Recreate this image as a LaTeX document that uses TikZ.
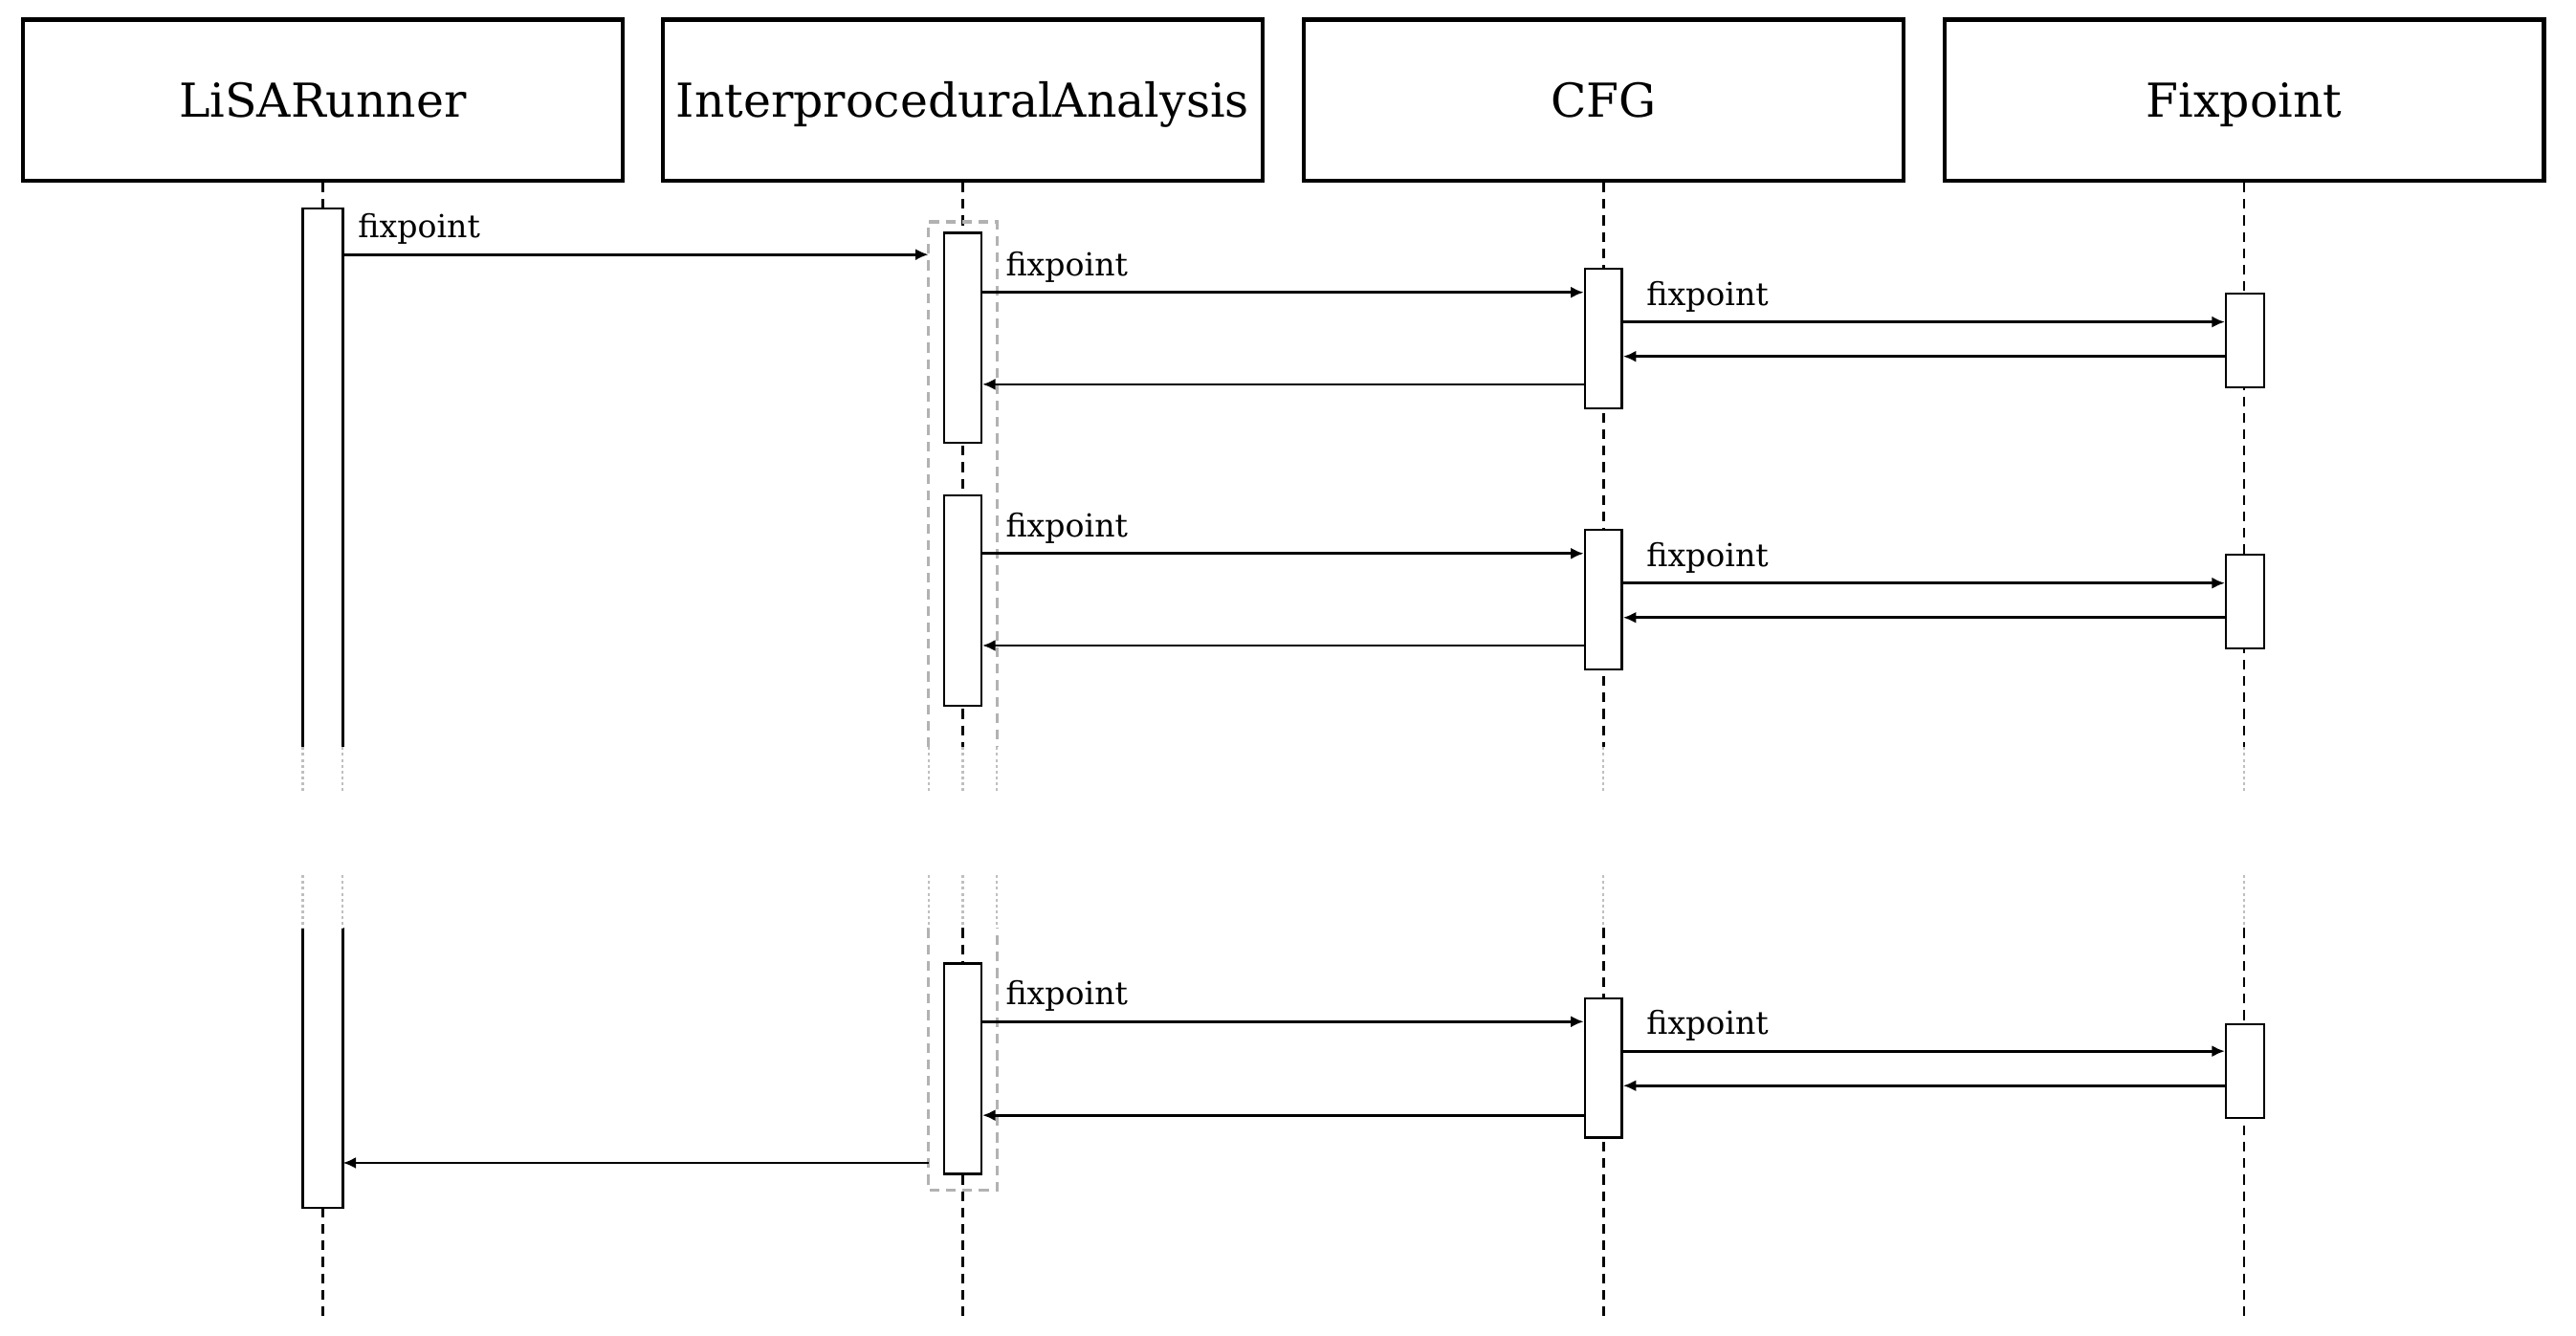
\documentclass[tikz,border=0pt]{standalone}
\usepackage{fontspec}
\setmainfont{DejaVu Serif}
\usetikzlibrary{arrows.meta}

\tikzset{
  actor/.style={draw, line width=1.4pt, minimum width=7.3cm, minimum height=1.96cm, text height=11.8pt, text depth=0pt, font=\fontsize{16.2}{19}\selectfont},
  act/.style={draw, fill=white, line width=0.8pt, minimum width=0.45cm, anchor=north, inner sep=0pt},
  life/.style={line width=0.85pt, dash pattern=on 3.4pt off 2.3pt},
  fade/.style={gray!50, line width=0.7pt, dash pattern=on 1pt off 1pt},
  frame/.style={gray!60, line width=1.1pt, dash pattern=on 3.4pt off 2.3pt},
  call/.style={line width=0.9pt, -{Latex[length=4.5pt,width=4pt]}},
  lbl/.style={font=\fontsize{11}{13}\selectfont, anchor=south west, inner sep=2pt, xshift=0.2cm, yshift=1pt},
}

\begin{document}
\begin{tikzpicture}[x=0.02cm, y=-0.02cm]
    \useasboundingbox (0,0) rectangle (1568,813);
    % Actors
    \node[actor] (lisa) at (196.5,61) {LiSARunner};
    \node[actor] (ipa) at (586,61) {InterproceduralAnalysis};
    \node[actor] (cfg) at (976,61) {CFG};
    \node[actor] (fix) at (1366,61) {Fixpoint};
    % Lifelines, broken in the middle
    \foreach \n in {lisa,ipa,cfg,fix} {
        \draw[life] (\n.south) -- (\n.south |- 0,455);
        \draw[fade] (\n.south |- 0,455) -- (\n.south |- 0,483);
        \draw[fade] (\n.south |- 0,533) -- (\n.south |- 0,565);
        \draw[life] (\n.south |- 0,565) -- (\n.south |- 0,803);
    }
    % Loop frame around the analysis
    \node[minimum width=0.82cm, minimum height=11.78cm, anchor=north, inner sep=0pt] (ipaF) at (586,135) {};
    \draw[frame] (ipaF.west |- 0,455) -- (ipaF.north west) -- (ipaF.north east) -- (ipaF.east |- 0,455);
    \draw[frame] (ipaF.west |- 0,565) -- (ipaF.south west) -- (ipaF.south east) -- (ipaF.east |- 0,565);
    % Runner activation
    \node[act, draw=none, minimum width=0.46cm, minimum height=12.14cm] (lisaA) at (196.5,127) {};
    \draw[line width=0.8pt] (lisaA.west |- 0,455) -- (lisaA.north west) -- (lisaA.north east) -- (lisaA.east |- 0,455);
    \draw[line width=0.8pt] (lisaA.west |- 0,565) -- (lisaA.south west) -- (lisaA.south east) -- (lisaA.east |- 0,565);
    \foreach \a in {lisaA.west,lisaA.east,ipaF.west,ipaF.east} {
        \draw[fade] (\a |- 0,455) -- (\a |- 0,483);
        \draw[fade] (\a |- 0,533) -- (\a |- 0,565);
    }
    % Three rounds of fixpoint calls
    \foreach \i/\ta/\tc/\tf/\ya/\yb/\yc/\yd in {1/141/163/178/178/196/217/234, 2/301/322/337/337/355/376/393, 3/586/607/623/622/640/661/679} {
        \node[act, minimum height=2.56cm] (ipa\i) at (586,\ta) {};
        \node[act, minimum height=1.7cm] (cfg\i) at (976,\tc) {};
        \node[act, minimum width=0.46cm, minimum height=1.14cm] (fix\i) at (1366.5,\tf) {};
        \draw[call] (ipa\i.east |- 0,\ya) -- node[lbl, pos=0] {fixpoint} (cfg\i.west |- 0,\ya);
        \draw[call] (cfg\i.east |- 0,\yb) -- node[lbl, pos=0] {fixpoint} (fix\i.west |- 0,\yb);
        \draw[call] (fix\i.west |- 0,\yc) -- (cfg\i.east |- 0,\yc);
        \draw[call] (cfg\i.west |- 0,\yd) -- (ipa\i.east |- 0,\yd);
    }
    % Runner call and return
    \draw[call] (lisaA.east |- 0,155) -- node[lbl, pos=0, xshift=-0.1cm] {fixpoint} (ipaF.west |- 0,155);
    \draw[call] (ipaF.west |- 0,708) -- (lisaA.east |- 0,708);
\end{tikzpicture}
\end{document}
